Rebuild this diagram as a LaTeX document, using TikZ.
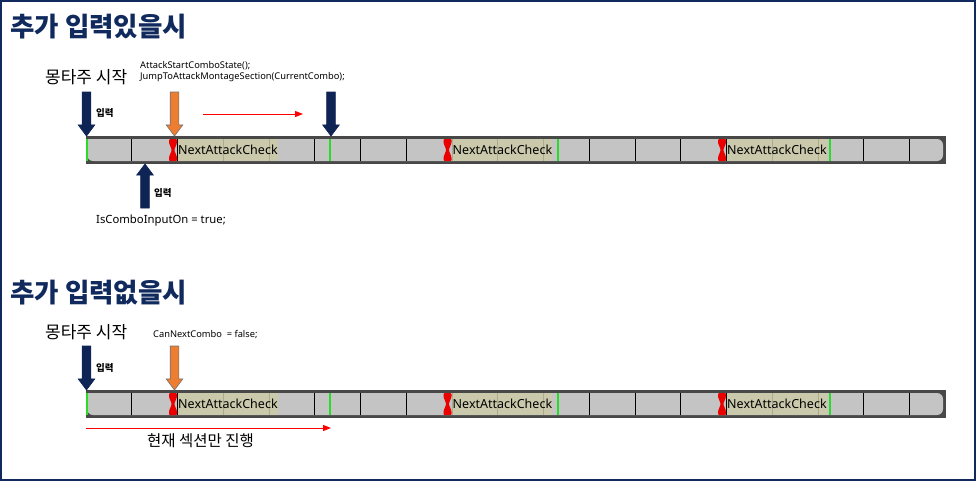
\documentclass[tikz,border=0pt]{standalone}
\usepackage{fontspec}
\setmainfont{Noto Sans}
\newfontfamily\kofont{Noto Sans CJK KR}
\usetikzlibrary{shapes.arrows}
\usetikzlibrary{arrows.meta}

\definecolor{titlenavy}{RGB}{16,42,94}
\definecolor{arrownavy}{RGB}{14,36,84}
\definecolor{arroworange}{RGB}{237,125,49}
\definecolor{bardark}{RGB}{72,72,72}
\definecolor{barlight}{RGB}{196,196,196}
\definecolor{checkfill}{RGB}{204,202,168}
\definecolor{markred}{RGB}{235,0,0}
\definecolor{startgreen}{RGB}{40,220,40}

\begin{document}
\begin{tikzpicture}[x=1pt, y=-1pt,
  txt/.style={inner sep=0pt, anchor=west},
  title/.style={txt, font=\kofont\bfseries\fontsize{26.5}{30}\selectfont, text=titlenavy},
  kolabel/.style={txt, font=\kofont\fontsize{17}{20}\selectfont},
  inlabel/.style={txt, font=\kofont\bfseries\fontsize{9.5}{11}\selectfont},
  codelabel/.style={txt, align=left, font=\fontsize{9.3}{11}\selectfont},
  checklabel/.style={txt, font=\fontsize{12.5}{14}\selectfont},
  blockarrow/.style={single arrow, inner sep=4pt, outer sep=0pt, minimum width=0pt,
    single arrow head extend=4pt, single arrow tip angle=74, minimum height=44pt,
    anchor=tip, line width=0.6pt},
  navyarrow/.style={blockarrow, fill=arrownavy, draw=arrownavy},
  orangearrow/.style={blockarrow, fill=arroworange, draw=black!55},
  redline/.style={red, line width=1pt, -{Triangle[length=8pt,width=6pt]}},
  divider/.style={black, line width=0.9pt}]

\useasboundingbox (0,0) rectangle (977,482);
\draw[titlenavy, line width=1.5pt] (1,1) rectangle (975,480);

% timelines
\foreach \by in {0,254}{
\begin{scope}[shift={(0,\by)}]
  \fill[bardark] (86,136) rectangle (946,164);
  \fill[barlight] (87,139) [rounded corners=6pt] -- (943,139) -- (943,161) -- (87,161) [sharp corners] -- cycle;
  \foreach \k in {1,...,18}
    \draw[divider] ({86+45.75*\k},139) -- ({86+45.75*\k},161);
  % next attack check sections
  \foreach \k in {2,8,14}{
    \pgfmathsetmacro\cx{86+45.75*\k}
    \pgfmathsetmacro\mx{\cx-4.5}
    \fill[checkfill, opacity=0.85] (\cx,139) rectangle +(100,22);
    \node[checklabel] (chk\k-\by) at (\cx+0.5,150) {NextAttackCheck};
    \fill[markred, rounded corners=1pt] (\mx-4,139) -- (\mx+4,139) -- (\mx+4,143) -- (\mx+1.2,150)
      -- (\mx+4,157) -- (\mx+4,161) -- (\mx-4,161) -- (\mx-4,157) -- (\mx-1.2,150) -- (\mx-4,143) -- cycle;
  }
  \foreach \gx in {87,330,558,830}
    \draw[startgreen, line width=1.2pt] (\gx,139) -- (\gx,161);
\end{scope}
}

% with extra input
\node[title] (title1) at (10,27) {추가 입력있을시};
\node[kolabel] (start1) at (45,77) {몽타주 시작};
\node[codelabel] (code1) at (140,72) {AttackStartComboState();\\JumpToAttackMontageSection(CurrentCombo);};
\node[navyarrow, rotate=-90] (in1) at (86.5,136) {};
\node[inlabel] (inlab1) at (96,113) {입력};
\node[orangearrow, rotate=-90] (check1) at (174.5,136) {};
\node[navyarrow, rotate=-90] (next1) at (331,136) {};
\coordinate (go1a) at (203,114);
\coordinate (go1b) at (303,114);
\draw[redline] (go1a) -- (go1b);
\node[navyarrow, rotate=90] (in2) at (145,164) {};
\node[inlabel] (inlab2) at (154,193) {입력};
\node[codelabel, font=\fontsize{11.3}{13}\selectfont] (flag1) at (96,221) {IsComboInputOn = true;};

% without extra input
\node[title] (title2) at (10,293) {추가 입력없을시};
\node[kolabel] (start2) at (45,332) {몽타주 시작};
\node[codelabel] (code2) at (153,335) {CanNextCombo~~= false;};
\node[navyarrow, rotate=-90] (in3) at (86.5,390) {};
\node[inlabel] (inlab3) at (96,368) {입력};
\node[orangearrow, rotate=-90] (check2) at (174.5,390) {};
\coordinate (go2a) at (86,428);
\coordinate (go2b) at (331,428);
\draw[redline] (go2a) -- (go2b);
\node[kolabel, font=\kofont\fontsize{15.5}{18}\selectfont] (only2) at (147,441) {현재 섹션만 진행};
\end{tikzpicture}
\end{document}
